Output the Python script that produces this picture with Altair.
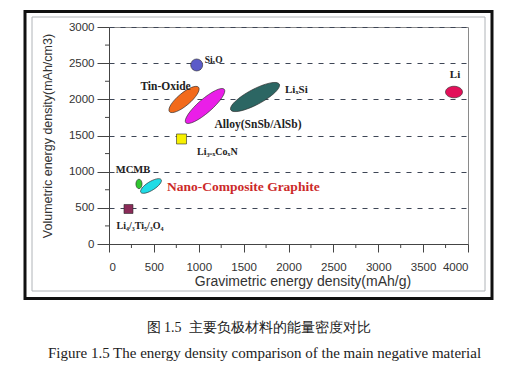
import altair as alt
import pandas as pd

# ---------------- data ----------------
materials = ["SixO", "Tin-Oxide", "Alloy(SnSb/AlSb)", "LixSi", "Li",
             "Li3-xCoxN", "MCMB", "Nano-Composite Graphite", "Li4/3Ti5/3O4"]
grav_capacity = [977, 836, 1070, 1627, 3844, 808, 334, 468, 217]      # mAh/g
vol_capacity = [2475, 1998, 1908, 2032, 2101, 1452, 830, 802, 484]    # mAh/cm3

x_major = [0, 500, 1000, 1500, 2000, 2500, 3000, 3500, 4000]
y_major = [0, 500, 1000, 1500, 2000, 2500, 3000]
x_minor = [250, 750, 1250, 1750, 2250, 2750, 3250, 3750]
y_minor = [250, 750, 1250, 1750, 2250, 2750]

caption_cn = "图\u00a01.5\u00a0\u00a0主要负极材料的能量密度对比"
caption_en = "Figure 1.5 The energy density comparison of the main negative material"
x_title = "Gravimetric energy density(mAh/g)"
y_title = "Volumetric energy density(mAh/cm3)"


# ---------------- styles ----------------
def ellipse(ratio):
    return f"M-1,0A1,{ratio},0,1,0,1,0A1,{ratio},0,1,0,-1,0Z"


style = {
    "SixO": dict(shape="circle", size=144, angle=0, fill="#5b5bc9"),
    "Tin-Oxide": dict(shape=ellipse(0.33), size=1444, angle=320, fill="#f26a1b"),
    "Alloy(SnSb/AlSb)": dict(shape=ellipse(0.27), size=2601, angle=319, fill="#ea1ee8"),
    "LixSi": dict(shape=ellipse(0.28), size=3025, angle=332, fill="#2c6663"),
    "Li": dict(shape=ellipse(0.68), size=289, angle=0, fill="#e3105a"),
    "Li3-xCoxN": dict(shape="square", size=100, angle=0, fill="#f7f000"),
    "MCMB": dict(shape=ellipse(0.65), size=90, angle=90, fill="#2fc62f"),
    "Nano-Composite Graphite": dict(shape=ellipse(0.36), size=576, angle=328, fill="#20dce6"),
    "Li4/3Ti5/3O4": dict(shape="square", size=81, angle=0, fill="#8a2b58"),
}

# label: material -> (text, dx, dy, align, fontsize, color)
labels = {
    "SixO": ("SiₓO", 8, -5, "left", 9.5, "#222222"),
    "Tin-Oxide": ("Tin-Oxide", -18.5, -12.5, "center", 11.5, "#222222"),
    "Alloy(SnSb/AlSb)": ("Alloy(SnSb/AlSb)", 53, 19.5, "center", 11.5, "#222222"),
    "LixSi": ("LiₓSi", 30, -7.5, "left", 11, "#222222"),
    "Li": ("Li", 1, -17, "center", 11, "#222222"),
    "Li3-xCoxN": ("Li₃₋ₓCoₓN", 15.5, 13, "left", 10, "#222222"),
    "MCMB": ("MCMB", -6, -14, "center", 10.5, "#222222"),
    "Nano-Composite Graphite": ("Nano-Composite Graphite", 16, 1, "left", 13.5, "#cc2a2a"),
    "Li4/3Ti5/3O4": ("Li₄/₃Ti₅/₃O₄", 11.5, 17, "center", 10, "#222222"),
}

df = pd.DataFrame({
    "material": materials,
    "grav": grav_capacity,
    "vol": vol_capacity,
})
df["shape"] = [style[m]["shape"] for m in materials]
df["size"] = [style[m]["size"] for m in materials]
df["angle"] = [style[m]["angle"] for m in materials]
df["fill"] = [style[m]["fill"] for m in materials]

sans = "Liberation Sans"
serif = "Liberation Serif"

X = alt.X("grav:Q", scale=alt.Scale(domain=[0, 4000], nice=False),
          axis=alt.Axis(values=x_major, title=x_title, grid=False,
                        tickSize=8, labelPadding=9, format="d",
                        titleX=193.5, titleY=37, titleBaseline="middle",
                        titleFontSize=14))
Y = alt.Y("vol:Q", scale=alt.Scale(domain=[0, 3000], nice=False),
          axis=alt.Axis(values=y_major, title=y_title, grid=True,
                        gridDash=[5, 6], gridColor="#3e4656", gridWidth=1.2,
                        tickSize=12, labelPadding=3, format="d",
                        titleX=-62, titleY=108.5, titleBaseline="middle",
                        titleFontSize=12.5))

one = pd.DataFrame({"a": [0]})

outer_frame = alt.Chart(one).mark_rect(filled=False, stroke="#111111", strokeWidth=3).encode(
    x=alt.value(-84), x2=alt.value(383), y=alt.value(-15.5), y2=alt.value(271.5))
inner_frame = alt.Chart(one).mark_rect(filled=False, stroke="#b0b4b8", strokeWidth=1).encode(
    x=alt.value(-77), x2=alt.value(376), y=alt.value(-10), y2=alt.value(264))

minor_y = alt.Chart(pd.DataFrame({"vol": y_minor})).mark_rule(color="#444444").encode(
    y=Y, x=alt.value(-4), x2=alt.value(0))
minor_x = alt.Chart(pd.DataFrame({"grav": x_minor})).mark_rule(color="#444444").encode(
    x=X, y=alt.value(217), y2=alt.value(221))

points = alt.Chart(df).mark_point(filled=True, opacity=1, stroke="#2a2a2a", strokeWidth=0.6).encode(
    x=X, y=Y,
    shape=alt.Shape("shape:N", scale=None),
    size=alt.Size("size:Q", scale=None),
    angle=alt.Angle("angle:Q", scale=None),
    fill=alt.Fill("fill:N", scale=None),
)

text_layers = []
for m in materials:
    t, dx, dy, align, fs, col = labels[m]
    sub = df[df["material"] == m].assign(label=t)
    text_layers.append(
        alt.Chart(sub).mark_text(font=serif, fontWeight="bold", fontSize=fs, color=col,
                                 align=align, baseline="middle", dx=dx, dy=dy).encode(
            x=X, y=Y, text="label:N")
    )

cap_cn = alt.Chart(pd.DataFrame({"t": [caption_cn]})).mark_text(
    font=serif, fontSize=14, color="#222222",
    align="center", baseline="middle").encode(text="t:N", x=alt.value(149.5), y=alt.value(301))
cap_en = alt.Chart(pd.DataFrame({"t": [caption_en]})).mark_text(
    font=serif, fontSize=15, color="#222222",
    align="center", baseline="middle").encode(text="t:N", x=alt.value(155.5), y=alt.value(326))

chart = alt.layer(
    outer_frame, inner_frame, points, minor_y, minor_x, *text_layers, cap_cn, cap_en
).properties(
    width=359, height=217,
    autosize=alt.AutoSizeParams(type="none"),
    padding={"left": 101, "top": 19, "right": 40, "bottom": 118},
    background="white",
).configure_view(
    stroke="#8a8a8a", strokeWidth=1
).configure_axis(
    labelFont=sans, labelFontSize=11.5, labelColor="#333333",
    titleFont=sans, titleFontWeight="normal", titleColor="#333333",
    domainColor="#444444", tickColor="#444444", domainWidth=1, tickWidth=1,
)

chart.save("out.html", embed_options={"renderer": "svg", "actions": False})
